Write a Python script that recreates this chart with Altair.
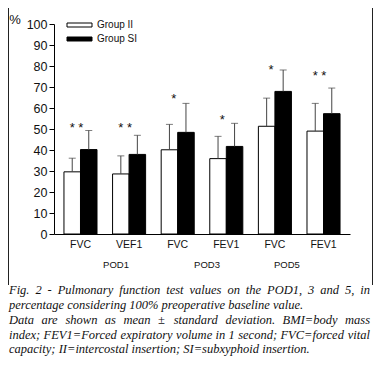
import altair as alt
import pandas as pd

categories = ["POD1 FVC", "POD1 VEF1", "POD3 FVC", "POD3 FEV1", "POD5 FVC", "POD5 FEV1"]
groups = ["Group II", "Group SI"]
ii_mean = [29.6, 28.6, 40.1, 35.9, 51.3, 49.0]
ii_sd = [6.5, 8.6, 12.1, 10.6, 13.4, 13.2]
si_mean = [40.2, 37.9, 48.4, 41.7, 67.9, 57.3]
si_sd = [9.1, 9.1, 13.8, 11.0, 10.2, 12.2]
star_text = ["* *", "* *", "*", "*", "*", "* *"]
star_y = [52.0, 51.8, 65.5, 55.7, 79.5, 76.5]
pods = ["POD1", "POD3", "POD5"]
y_ticks = [0, 10, 20, 30, 40, 50, 60, 70, 80, 90, 100]
caption_lines = [
    "Fig. 2 - Pulmonary function test values on the POD1, 3 and 5, in",
    "percentage considering 100% preoperative baseline value.",
    "Data are shown as mean \u00b1 standard deviation. BMI=body mass",
    "index; FEV1=Forced expiratory volume in 1 second; FVC=forced vital",
    "capacity; II=intercostal insertion; SI=subxyphoid insertion.",
]
caption_justified = [True, False, True, True, False]

rows = []
for i, c in enumerate(categories):
    rows.append(dict(cat=c, group=groups[0], mean=ii_mean[i], upper=ii_mean[i] + ii_sd[i]))
    rows.append(dict(cat=c, group=groups[1], mean=si_mean[i], upper=si_mean[i] + si_sd[i]))
df = pd.DataFrame(rows)

FONT = "Liberation Sans"
x_scale = alt.Scale(domain=categories, paddingInner=0.32, paddingOuter=0.205)
x = alt.X("cat:N", scale=x_scale, sort=categories, title=None,
          axis=alt.Axis(labelExpr="split(datum.label, ' ')[1]", labelAngle=0, ticks=False,
                        domainColor="black", labelFontSize=10.5, labelPadding=5,
                        labelColor="#111", labelFont=FONT))
y_scale = alt.Scale(domain=[0, 100])
y_axis = alt.Axis(values=y_ticks, grid=False, domainColor="black",
                  tickColor="black", tickSize=5, labelFontSize=12.5, labelPadding=2,
                  labelColor="#111", labelFont=FONT, labelOverlap=False)
xoff = alt.XOffset("group:N", scale=alt.Scale(domain=groups))
fill = alt.Fill("group:N", scale=alt.Scale(domain=groups, range=["white", "black"]), legend=None)

bars = alt.Chart(df).mark_bar(stroke="black", strokeWidth=1).encode(
    x=x, xOffset=xoff, y=alt.Y("mean:Q", scale=y_scale, axis=y_axis, title=None), fill=fill)
err = alt.Chart(df).mark_rule(color="#444", strokeWidth=1).encode(
    x=x, xOffset=xoff, y=alt.Y("mean:Q", scale=y_scale, axis=y_axis, title=None), y2="upper:Q")
caps = alt.Chart(df).mark_tick(color="#444", size=7, thickness=1, orient="horizontal").encode(
    x=x, xOffset=xoff, y=alt.Y("upper:Q", scale=y_scale, axis=y_axis, title=None))

stars_df = pd.DataFrame(dict(cat=categories, txt=star_text, yv=star_y))
stars = alt.Chart(stars_df).mark_text(fontSize=13, dx=-4, dy=3, baseline="middle",
                                       font=FONT, color="#111").encode(
    x=x, y=alt.Y("yv:Q", scale=y_scale, axis=y_axis, title=None), text="txt:N")

layers = [bars, err, caps, stars]

pod_dx = [35.5, 29.3, 12]
for i, p in enumerate(pods):
    pdf = pd.DataFrame(dict(cat=[categories[2 * i]], label=[p]))
    layers.append(alt.Chart(pdf).mark_text(fontSize=9.5, dx=pod_dx[i], baseline="middle",
                                           font=FONT, color="#111").encode(
        x=x, y=alt.value(241), text="label:N"))

# percent label
layers.append(alt.Chart(pd.DataFrame({"t": ["%"]})).mark_text(
    fontSize=13, font=FONT, color="#111", baseline="middle").encode(
    x=alt.value(-39), y=alt.value(-4), text="t:N"))

# manual legend
leg_y = [1, 15]
leg_fill = ["white", "black"]
for i, g in enumerate(groups):
    gdf = pd.DataFrame({"g": [g]})
    layers.append(alt.Chart(gdf).mark_rect(fill=leg_fill[i], stroke="black", strokeWidth=1).encode(
        x=alt.value(13), x2=alt.value(38), y=alt.value(leg_y[i] - 2), y2=alt.value(leg_y[i] + 2)))
    layers.append(alt.Chart(gdf).mark_text(fontSize=10, font=FONT, color="#111",
                                           align="left", baseline="middle").encode(
        x=alt.value(43), y=alt.value(leg_y[i]), text="g:N"))

# frame lines
frame = pd.DataFrame({"k": [0]})
for fx in [-45.5, 318.5]:
    layers.append(alt.Chart(frame).mark_rule(color="#222", strokeWidth=1).encode(
        x=alt.value(fx), y=alt.value(-16), y2=alt.value(261)))

# caption (Times-Italic metrics, used to justify lines)
W = {" ": 250, ".": 250, ",": 250, "-": 333, ";": 333, "=": 675, "\u00b1": 675, "%": 833,
     "a": 500, "b": 500, "c": 444, "d": 500, "e": 444, "f": 278, "g": 500, "h": 500,
     "i": 278, "j": 278, "k": 444, "l": 278, "m": 722, "n": 500, "o": 500, "p": 500,
     "q": 500, "r": 389, "s": 389, "t": 278, "u": 500, "v": 444, "w": 667, "x": 444,
     "y": 444, "z": 389, "A": 611, "B": 611, "C": 667, "D": 722, "E": 611, "F": 611,
     "G": 722, "H": 722, "I": 333, "M": 833, "O": 722, "P": 611, "S": 500, "V": 611}
CFS = 12.5
LEFT, RIGHT = -45.0, 316.0


def tw(s):
    return sum(W.get(ch, 500) for ch in s) / 1000.0 * CFS


cap_y = [266, 281, 296, 311, 325]
for i, line in enumerate(caption_lines):
    if caption_justified[i]:
        words = line.split(" ")
        total = sum(tw(w) for w in words)
        gap = (RIGHT - LEFT - total) / (len(words) - 1)
        pos = LEFT
        pieces = []
        for w in words:
            pieces.append((w, pos))
            pos += tw(w) + gap
    else:
        pieces = [(line, LEFT)]
    for w, px in pieces:
        layers.append(alt.Chart(pd.DataFrame({"t": [w]})).mark_text(
            fontSize=CFS, font="Liberation Serif", fontStyle="italic", color="#111",
            align="left", baseline="middle").encode(
            x=alt.value(round(px, 1)), y=alt.value(cap_y[i]), text="t:N"))

chart = alt.layer(*layers).properties(
    width=296, height=210,
    autosize=alt.AutoSizeParams(type="none"),
    padding={"left": 46, "top": 16, "right": 23, "bottom": 126},
).configure_view(stroke=None).configure_axis(labelOverlap=False)

chart.save("out.html", embed_options={"renderer": "svg", "actions": False})
